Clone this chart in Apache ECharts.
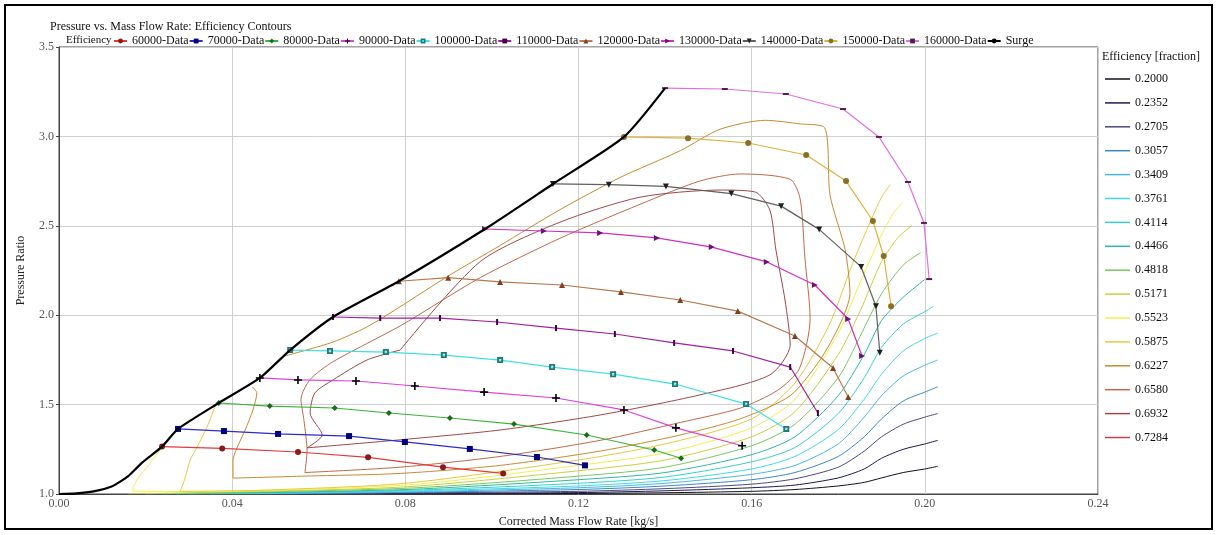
<!DOCTYPE html>
<html>
<head>
<meta charset="utf-8">
<script src="https://cdn.jsdelivr.net/npm/echarts@6/dist/echarts.min.js"></script>
<style>
  html, body { margin: 0; padding: 0; background: #fff; }
  #chart { width: 1216px; height: 535px; }
</style>
</head>
<body>
<div id="chart"></div>
<script>
// Axis ticks
const xTicks = [0, 0.04, 0.08, 0.12, 0.16, 0.20, 0.24];
const yTicks = [1.0, 1.5, 2.0, 2.5, 3.0, 3.5];

// Surge line
const surgeX = [0, 0.004, 0.008, 0.012, 0.016, 0.0194, 0.0238, 0.0275, 0.0369, 0.0464, 0.0534, 0.0633, 0.0785, 0.0984, 0.1141, 0.1305, 0.1400];
const surgeY = [1.0, 1.004, 1.015, 1.04, 1.10, 1.18, 1.265, 1.364, 1.509, 1.649, 1.805, 1.99, 2.19, 2.482, 2.734, 2.997, 3.27];

// Speed lines (corrected speed, rpm)
const s60x = [0.0238, 0.0377, 0.0552, 0.0714, 0.0887, 0.1026];
const s60y = [1.265, 1.255, 1.235, 1.205, 1.15, 1.115];
const s70x = [0.0275, 0.0381, 0.0506, 0.0670, 0.0799, 0.0949, 0.1104, 0.1215];
const s70y = [1.364, 1.352, 1.336, 1.324, 1.291, 1.252, 1.207, 1.16];
const s80x = [0.0369, 0.0487, 0.0637, 0.0762, 0.0903, 0.1051, 0.1219, 0.1375, 0.1437];
const s80y = [1.509, 1.492, 1.481, 1.453, 1.425, 1.391, 1.33, 1.246, 1.20];
const s90x = [0.0464, 0.0552, 0.0686, 0.0822, 0.0982, 0.1148, 0.1305, 0.1425, 0.1578];
const s90y = [1.649, 1.638, 1.632, 1.604, 1.570, 1.537, 1.47, 1.37, 1.27];
const s100x = [0.0534, 0.0626, 0.0755, 0.0889, 0.1019, 0.1139, 0.1280, 0.1423, 0.1587, 0.1680];
const s100y = [1.805, 1.80, 1.794, 1.777, 1.749, 1.71, 1.67, 1.615, 1.503, 1.364];
const s110x = [0.0633, 0.0742, 0.0880, 0.1012, 0.1148, 0.1284, 0.1421, 0.1557, 0.1689, 0.1753];
const s110y = [1.99, 1.984, 1.984, 1.962, 1.928, 1.895, 1.845, 1.80, 1.71, 1.453];
const s120x = [0.0785, 0.0899, 0.1019, 0.1162, 0.1298, 0.1435, 0.1568, 0.1700, 0.1788, 0.1823];
const s120y = [2.19, 2.21, 2.186, 2.169, 2.13, 2.085, 2.023, 1.884, 1.705, 1.543];
const s130x = [0.0984, 0.1120, 0.1250, 0.1381, 0.1508, 0.1635, 0.1746, 0.1823, 0.1855];
const s130y = [2.482, 2.471, 2.46, 2.432, 2.381, 2.298, 2.169, 1.979, 1.772];
const s140x = [0.1141, 0.1270, 0.1402, 0.1553, 0.1668, 0.1756, 0.1853, 0.1887, 0.1896];
const s140y = [2.734, 2.73, 2.72, 2.68, 2.61, 2.48, 2.27, 2.05, 1.79];
const s150x = [0.1305, 0.1453, 0.1592, 0.1726, 0.1818, 0.1880, 0.1905, 0.1922];
const s150y = [2.997, 2.99, 2.963, 2.896, 2.75, 2.527, 2.331, 2.05];
const s160x = [0.1400, 0.1538, 0.1679, 0.1811, 0.1894, 0.1961, 0.1998, 0.2010];
const s160y = [3.27, 3.265, 3.237, 3.153, 2.997, 2.745, 2.516, 2.202];

// Efficiency contour levels
const levels = ['0.2000', '0.2352', '0.2705', '0.3057', '0.3409', '0.3761', '0.4114', '0.4466',
                '0.4818', '0.5171', '0.5523', '0.5875', '0.6227', '0.6580', '0.6932', '0.7284'];
const levelColors = ['#101020', '#1a1a50', '#4a4a80', '#3a88c0', '#48b8e0', '#40d8e8', '#38d0c8', '#30b8a0',
                     '#78c860', '#c8d040', '#f0f050', '#e8c840', '#c88a30', '#c06a48', '#a04848', '#c04050'];

// Contour traces, [flow, pressure ratio] pairs per level
const c0200 = [[0.075,1.0],[0.120,1.003],[0.140,1.007],[0.160,1.015],[0.170,1.025],[0.180,1.045],[0.186,1.065],[0.190,1.09],[0.195,1.12],[0.200,1.14],[0.203,1.155]];
const c2352 = [[0.055,1.0],[0.080,1.003],[0.120,1.008],[0.140,1.018],[0.160,1.035],[0.170,1.05],[0.180,1.09],[0.186,1.14],[0.190,1.20],[0.195,1.25],[0.200,1.28],[0.203,1.30]];
const c2705 = [[0.045,1.0],[0.080,1.006],[0.120,1.015],[0.140,1.03],[0.160,1.055],[0.170,1.085],[0.180,1.15],[0.186,1.24],[0.190,1.32],[0.195,1.39],[0.200,1.43],[0.203,1.45]];
const c3057 = [[0.040,1.0],[0.080,1.009],[0.120,1.025],[0.140,1.045],[0.160,1.08],[0.170,1.12],[0.180,1.21],[0.186,1.32],[0.190,1.42],[0.195,1.52],[0.200,1.57],[0.203,1.60]];
const c3409 = [[0.035,1.0],[0.080,1.012],[0.120,1.035],[0.140,1.06],[0.160,1.11],[0.170,1.16],[0.180,1.28],[0.186,1.43],[0.190,1.55],[0.195,1.66],[0.200,1.72],[0.203,1.75]];
const c3761 = [[0.030,1.0],[0.080,1.016],[0.120,1.045],[0.140,1.075],[0.160,1.14],[0.170,1.21],[0.180,1.36],[0.186,1.53],[0.190,1.67],[0.195,1.80],[0.200,1.87],[0.203,1.90]];
const c4114 = [[0.027,1.0],[0.080,1.02],[0.120,1.06],[0.140,1.095],[0.160,1.18],[0.170,1.26],[0.180,1.45],[0.186,1.65],[0.190,1.82],[0.195,1.95],[0.200,2.02],[0.202,2.05]];
const c4466 = [[0.024,1.0],[0.080,1.025],[0.120,1.08],[0.140,1.12],[0.160,1.22],[0.170,1.32],[0.180,1.55],[0.186,1.78],[0.190,1.97],[0.195,2.10],[0.200,2.20]];
const c4818 = [[0.020,1.0],[0.080,1.032],[0.120,1.10],[0.140,1.15],[0.160,1.27],[0.170,1.39],[0.180,1.65],[0.185,1.88],[0.190,2.12],[0.195,2.28],[0.199,2.35]];
const c5171 = [[0.016,1.0],[0.040,1.012],[0.080,1.04],[0.120,1.13],[0.140,1.19],[0.160,1.32],[0.170,1.46],[0.180,1.78],[0.185,2.02],[0.190,2.30],[0.194,2.44],[0.197,2.50]];
const c5523 = [[0.0238,1.265],[0.021,1.17],[0.018,1.08],[0.017,1.02],[0.030,1.014],[0.080,1.05],[0.120,1.16],[0.140,1.23],[0.160,1.37],[0.170,1.53],[0.180,1.90],[0.185,2.18],[0.190,2.45],[0.193,2.58],[0.195,2.63]];
const c5875 = [[0.0362,1.50],[0.0342,1.375],[0.0319,1.263],[0.0303,1.19],[0.029,1.08],[0.028,1.015],[0.045,1.02],[0.080,1.06],[0.120,1.19],[0.140,1.28],[0.160,1.42],[0.170,1.62],[0.178,1.95],[0.183,2.27],[0.187,2.50],[0.190,2.66],[0.192,2.73]];
const c6227 = [[0.0446,1.60],[0.0457,1.565],[0.0448,1.47],[0.0430,1.358],[0.0411,1.257],[0.0402,1.19],[0.0402,1.089],[0.0568,1.10],[0.0788,1.115],[0.1019,1.16],[0.1250,1.24],[0.1435,1.33],[0.1573,1.42],[0.1689,1.55],[0.1758,1.75],[0.1804,1.95],[0.1827,2.12],[0.1816,2.365],[0.1781,2.672],[0.1769,3.047],[0.1712,3.07],[0.1631,3.09],[0.1527,3.04],[0.1435,2.92],[0.1296,2.77],[0.1157,2.59],[0.1019,2.39],[0.0903,2.225],[0.0783,2.04],[0.0711,1.934],[0.0633,1.85],[0.0522,1.772]];
const c6580 = [[0.0568,1.12],[0.0573,1.24],[0.0566,1.41],[0.0559,1.53],[0.0580,1.64],[0.0633,1.74],[0.0788,1.94],[0.0973,2.21],[0.1157,2.43],[0.1342,2.62],[0.1480,2.75],[0.1573,2.79],[0.1689,2.76],[0.1712,2.65],[0.1723,2.32],[0.1735,1.98],[0.1710,1.70],[0.1660,1.58],[0.1573,1.48],[0.1435,1.40],[0.1250,1.30],[0.1019,1.21],[0.0788,1.15],[0.0568,1.12]];
const c6932 = [[0.0788,1.805],[0.0711,1.749],[0.0633,1.638],[0.0591,1.565],[0.0580,1.453],[0.0608,1.33],[0.0573,1.258],[0.0783,1.302],[0.1019,1.358],[0.1250,1.442],[0.1480,1.554],[0.1642,1.666],[0.1689,1.833],[0.1677,2.085],[0.1656,2.365],[0.1642,2.588],[0.1608,2.689],[0.1527,2.70],[0.1342,2.66],[0.1157,2.52],[0.0973,2.30],[0.0788,1.805]];
const c7284 = [];
const contours = [c0200, c2352, c2705, c3057, c3409, c3761, c4114, c4466, c4818, c5171, c5523, c5875, c6227, c6580, c6932, c7284];

const zip = (xs, ys) => xs.map((x, i) => [x, ys[i]]);
const serif = 'Liberation Serif';

const speedDefs = [
  { name: '60000-Data',  x: s60x,  y: s60y,  line: '#e03c3c', mark: '#8b1a1a', symbol: 'circle', size: 6 },
  { name: '70000-Data',  x: s70x,  y: s70y,  line: '#2c2cc8', mark: '#000080', symbol: 'rect', size: 6 },
  { name: '80000-Data',  x: s80x,  y: s80y,  line: '#3cb43c', mark: '#1a6e1a', symbol: 'diamond', size: 6 },
  { name: '90000-Data',  x: s90x,  y: s90y,  line: '#e040e0', mark: '#000000', symbol: 'path://M4,0H6V4H10V6H6V10H4V6H0V4H4Z', size: 8 },
  { name: '100000-Data', x: s100x, y: s100y, line: '#40e0e0', mark: '#207878', symbol: 'path://M0,0H10V10H0ZM3,3V7H7V3Z', size: 6 },
  { name: '110000-Data', x: s110x, y: s110y, line: '#a020a0', mark: '#400040', symbol: 'path://M0,0H3V10H0Z', size: [2, 6] },
  { name: '120000-Data', x: s120x, y: s120y, line: '#b87850', mark: '#804020', symbol: 'triangle', size: 6 },
  { name: '130000-Data', x: s130x, y: s130y, line: '#d030c0', mark: '#701070', symbol: 'path://M0,0L10,5L0,10Z', size: 6 },
  { name: '140000-Data', x: s140x, y: s140y, line: '#606060', mark: '#202020', symbol: 'path://M0,0H10L5,10Z', size: 6 },
  { name: '150000-Data', x: s150x, y: s150y, line: '#e0b040', mark: '#8a7020', symbol: 'circle', size: 6 },
  { name: '160000-Data', x: s160x, y: s160y, line: '#e070e0', mark: '#502050', symbol: 'path://M0,0H10V3H0Z', size: [6, 2] }
];

const series = [];
contours.forEach((pts, i) => {
  series.push({
    name: levels[i], type: 'line', data: pts, symbol: 'none', smooth: 0.25,
    lineStyle: { color: levelColors[i], width: 1 }, itemStyle: { color: levelColors[i] },
    silent: true, z: 2
  });
});
speedDefs.forEach(d => {
  series.push({
    name: d.name, type: 'line', data: zip(d.x, d.y), symbol: d.symbol, symbolSize: d.size,
    showSymbol: true, lineStyle: { color: d.line, width: 1.2 },
    itemStyle: { color: d.mark, borderWidth: 0 }, z: 3
  });
});
series.push({
  name: 'Surge', type: 'line', data: zip(surgeX, surgeY), symbol: 'none', smooth: 0.2,
  lineStyle: { color: '#000', width: 2.2 }, itemStyle: { color: '#000' }, z: 4
});

const chart = echarts.init(document.getElementById('chart'), null, { renderer: 'canvas' });
chart.setOption({
  animation: false,
  backgroundColor: '#fff',
  textStyle: { fontFamily: serif },
  title: {
    text: 'Pressure vs. Mass Flow Rate: Efficiency Contours',
    left: 45, top: 16,
    textStyle: { fontFamily: serif, fontSize: 12, fontWeight: 'normal', color: '#111' }
  },
  legend: [
    {
      data: speedDefs.map(d => d.name).concat(['Surge']),
      left: 108, top: 30, itemWidth: 13, itemHeight: 6, itemGap: 0,
      textStyle: { fontFamily: serif, fontSize: 12, color: '#111' },
      selectedMode: false
    },
    {
      data: levels, orient: 'vertical', left: 1100, top: 67,
      icon: 'rect', itemWidth: 25, itemHeight: 1.5, itemGap: 9.9,
      textStyle: { fontFamily: serif, fontSize: 12, color: '#111', lineHeight: 14 },
      selectedMode: false
    }
  ],
  grid: { left: 59, right: 118, top: 47, bottom: 41, show: true, borderColor: '#444', borderWidth: 1 },
  xAxis: {
    type: 'value', min: 0, max: 0.24, interval: 0.04,
    name: 'Corrected Mass Flow Rate [kg/s]', nameLocation: 'middle', nameGap: 22,
    nameTextStyle: { fontFamily: serif, fontSize: 12, color: '#222' },
    axisLine: { lineStyle: { color: '#444' } },
    axisTick: { show: false },
    axisLabel: { fontFamily: serif, fontSize: 12, color: '#555', margin: 4,
      formatter: v => xTicks.some(t => Math.abs(t - v) < 1e-9) ? v.toFixed(2) : '' },
    splitLine: { show: true, lineStyle: { color: '#cfcfcf' } }
  },
  yAxis: {
    type: 'value', min: 1, max: 3.5, interval: 0.5,
    name: 'Pressure Ratio', nameLocation: 'middle', nameGap: 32, nameRotate: 90,
    nameTextStyle: { fontFamily: serif, fontSize: 12, color: '#222' },
    axisLine: { show: true, lineStyle: { color: '#444' } },
    axisTick: { show: true, length: 3, lineStyle: { color: '#444' } },
    axisLabel: { fontFamily: serif, fontSize: 12, color: '#555', margin: 5,
      formatter: v => yTicks.some(t => Math.abs(t - v) < 1e-9) ? v.toFixed(1) : '' },
    splitLine: { show: true, lineStyle: { color: '#cfcfcf' } }
  },
  graphic: [
    { type: 'rect', shape: { x: 5, y: 5, width: 1207, height: 524 }, style: { fill: 'none', stroke: '#000', lineWidth: 2 }, silent: true },
    { type: 'text', left: 66, top: 35, style: { text: 'Efficiency', fontFamily: serif, fontSize: 11, fill: '#111' } },
    { type: 'text', left: 1102, top: 51, style: { text: 'Efficiency [fraction]', fontFamily: serif, fontSize: 12, fill: '#111' } }
  ],
  series: series
});
</script>
</body>
</html>
